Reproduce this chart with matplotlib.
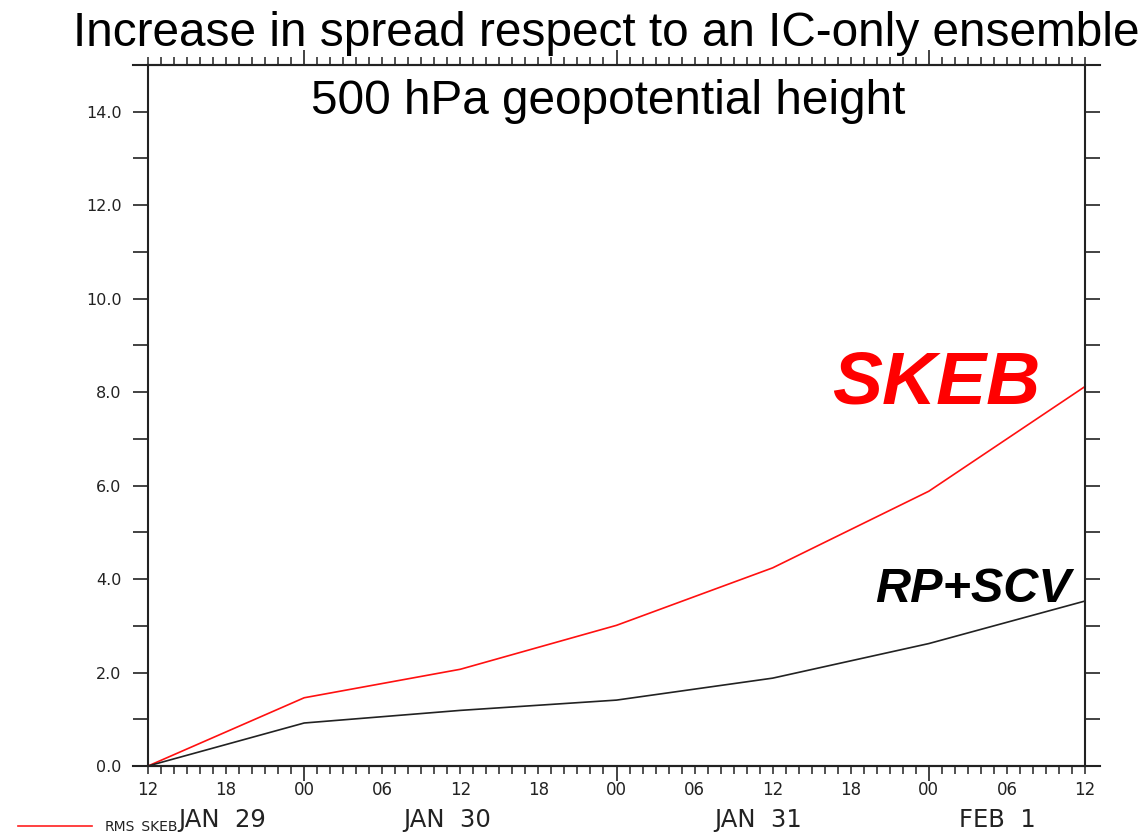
import matplotlib
matplotlib.use("Agg")
import matplotlib.pyplot as plt
from matplotlib.lines import Line2D
from matplotlib.ticker import MultipleLocator, FixedLocator

# Forecast lead time in hours from 29 Jan 12Z
hours = [0, 12, 24, 36, 48, 60, 72]
skeb = [0.0, 1.46, 2.07, 3.01, 4.24, 5.88, 8.12]
rp_scv = [0.0, 0.92, 1.19, 1.41, 1.88, 2.62, 3.53]

hour_ticks = [0, 6, 12, 18, 24, 30, 36, 42, 48, 54, 60, 66, 72]
hour_labels = ["12", "18", "00", "06", "12", "18", "00", "06", "12", "18", "00", "06", "12"]
day_hours = [0 + 12, 24 + 12, 48 + 12]          # 00Z of each new day
date_labels = ["JAN  29", "JAN  30", "JAN  31", "FEB  1"]
date_pos = [5.7, 23.0, 46.9, 65.3]

y_major = [0, 2, 4, 6, 8, 10, 12, 14]

W, H = 1148, 833
fig = plt.figure(figsize=(W / 100, H / 100), dpi=100)
L, R, B, T = 148, 1085, 766, 65
ax = fig.add_axes([L / W, (H - B) / H, (R - L) / W, (B - T) / H])

ink = "#222222"
ax.plot(hours, skeb, color="#ff1010", lw=1.2, solid_joinstyle="round", clip_on=False)
ax.plot(hours, rp_scv, color="#222222", lw=1.2, solid_joinstyle="round", clip_on=False)

ax.set_xlim(0, 72)
ax.set_ylim(0, 15)

for s in ax.spines.values():
    s.set_color(ink)
    s.set_linewidth(1.5)

# Hourly minor ticks, long ticks at 00Z
ax.xaxis.set_major_locator(FixedLocator(day_hours))
ax.xaxis.set_minor_locator(MultipleLocator(1))
ax.set_xticklabels([])
ax.tick_params(axis="x", which="major", direction="out", length=10.5, width=1.2,
               color=ink, top=True, bottom=True)
ax.tick_params(axis="x", which="minor", direction="out", length=5.5, width=1.1,
               color=ink, top=True, bottom=True)

ax.yaxis.set_major_locator(FixedLocator(y_major))
ax.yaxis.set_minor_locator(MultipleLocator(1))
ax.set_yticklabels([f"{v:.1f}" for v in y_major])
ax.tick_params(axis="y", which="both", direction="out", length=11, width=1.2,
               color=ink, left=True, right=True, labelsize=11.5, labelcolor=ink, pad=8)

# Hour labels under the axis
for h, lab in zip(hour_ticks, hour_labels):
    ax.text(h, -0.52, lab, ha="center", va="center", fontsize=12, color=ink,
            transform=ax.transData, clip_on=False)
# Date labels
for h, lab in zip(date_pos, date_labels):
    ax.text(h, -1.16, lab, ha="center", va="center", fontsize=17.5, color=ink,
            transform=ax.transData, clip_on=False)

# Horizontal frame lines run slightly past the box
for yy in (B, T):
    fig.add_artist(Line2D([133 / W, 1100 / W], [(H - yy) / H] * 2, color=ink, lw=1.5))

# Titles
fig.text(606 / W, 1 - 33 / H, "Increase in spread respect to an IC-only ensemble",
         ha="center", va="center", fontsize=34.4, family="Liberation Sans", color="black")
fig.text(608 / W, 1 - 102 / H, "500 hPa geopotential height",
         ha="center", va="center", fontsize=34.4, family="Liberation Sans", color="black")

# Series labels
fig.text(936 / W, 1 - 384 / H, "SKEB", ha="center", va="center", fontsize=54,
         family="Liberation Sans", weight="bold", style="italic", color="#ff0000")
fig.text(973 / W, 1 - 590 / H, "RP+SCV", ha="center", va="center", fontsize=35,
         family="Liberation Sans", weight="bold", style="italic", color="black")

# Legend entry
fig.add_artist(Line2D([18 / W, 92 / W], [(H - 826) / H] * 2, color="#ff2020", lw=1.2))
fig.text(105 / W, 1 - 827 / H, "RMS_SKEB", ha="left", va="center", fontsize=10, color=ink)

fig.savefig("out.png", dpi=100)
